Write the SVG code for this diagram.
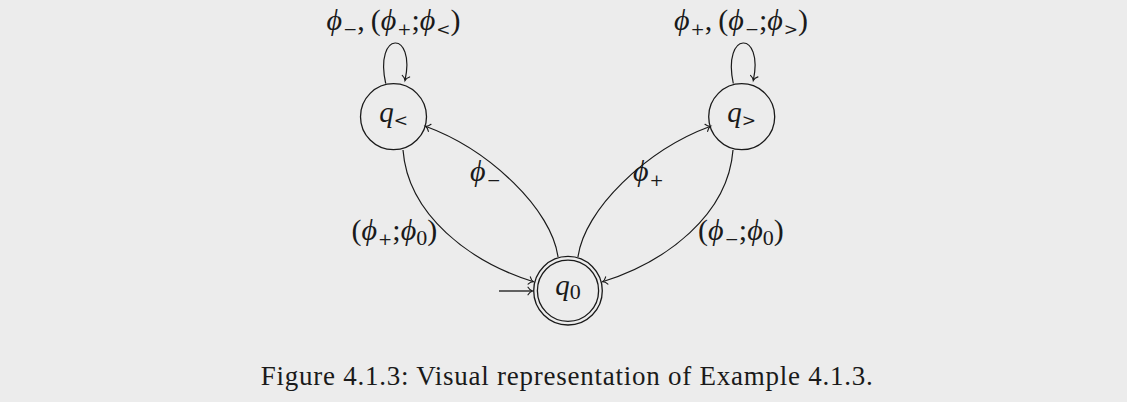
<svg xmlns="http://www.w3.org/2000/svg" width="1127" height="402" viewBox="0 0 1127 402">
<style>
.st{fill:none;stroke:#1a1a1a;stroke-width:1.3}
.ed{fill:none;stroke:#1a1a1a;stroke-width:1.2}
.m{font-family:"Liberation Serif","DejaVu Serif",serif;font-size:30px;fill:#1a1a1a}
.q{font-size:29px}
.i{font-style:italic}
.s{font-size:22px;font-style:normal}
.o{font-family:"DejaVu Serif",serif;font-size:17px;font-style:normal}
.cap{font-family:"Liberation Serif","DejaVu Serif",serif;font-size:27px;fill:#1a1a1a}
</style>
<defs>
<marker id="to" viewBox="-6 -6 12 12" markerWidth="12" markerHeight="12" refX="0" refY="0" orient="auto" markerUnits="userSpaceOnUse" overflow="visible">
<path d="M -4.5 -3.8 C -3.2 -1.6 -1.2 -0.35 0 0 C -1.2 0.35 -3.2 1.6 -4.5 3.8" fill="none" stroke="#1a1a1a" stroke-width="1.1" stroke-linecap="round"/>
</marker>
</defs>
<rect x="0" y="0" width="1127" height="402" fill="#ececec"/>

<g id="connectors">
<path class="ed" d="M 385.7 83.5 C 374 30, 416 30, 405 80.5" marker-end="url(#to)"/>
<path class="ed" d="M 733.3 83.5 C 722 30, 764 30, 753.3 80.5" marker-end="url(#to)"/>
<path class="ed" d="M 403 150 C 408 215, 470 262, 533.5 281.8" marker-end="url(#to)"/>
<path class="ed" d="M 558 257 C 552 210, 490 150, 425.5 126.3" marker-end="url(#to)"/>
<path class="ed" d="M 578 257 C 584 210, 646 150, 710.5 126.3" marker-end="url(#to)"/>
<path class="ed" d="M 733 150 C 728 215, 666 262, 602.5 281.8" marker-end="url(#to)"/>
<path d="M 499 291 L 532.5 291" fill="none" stroke="#333" stroke-width="1.6" marker-end="url(#to)"/>
</g>

<g id="label-loop-left">
<text class="m" x="393.5" y="30" text-anchor="middle"><tspan class="i">ϕ</tspan><tspan class="o" dx="1" dy="5">−</tspan><tspan dy="-5">,</tspan><tspan dx="6">(</tspan><tspan class="i">ϕ</tspan><tspan class="o" dx="1" dy="5">+</tspan><tspan dy="-5">;</tspan><tspan class="i">ϕ</tspan><tspan class="o" dx="1" dy="5">&lt;</tspan><tspan dy="-5">)</tspan></text>
</g>
<g id="label-loop-right">
<text class="m" x="741" y="30" text-anchor="middle"><tspan class="i">ϕ</tspan><tspan class="o" dx="1" dy="5">+</tspan><tspan dy="-5">,</tspan><tspan dx="6">(</tspan><tspan class="i">ϕ</tspan><tspan class="o" dx="1" dy="5">−</tspan><tspan dy="-5">;</tspan><tspan class="i">ϕ</tspan><tspan class="o" dx="1" dy="5">&gt;</tspan><tspan dy="-5">)</tspan></text>
</g>
<g id="label-minus">
<text class="m" x="470" y="181"><tspan class="i">ϕ</tspan><tspan class="o" dx="1" dy="5">−</tspan></text>
</g>
<g id="label-plus">
<text class="m" x="633" y="181"><tspan class="i">ϕ</tspan><tspan class="o" dx="1" dy="5">+</tspan></text>
</g>
<g id="label-left-return">
<text class="m" x="351.5" y="240"><tspan>(</tspan><tspan class="i">ϕ</tspan><tspan class="o" dx="1" dy="5">+</tspan><tspan dy="-5">;</tspan><tspan class="i">ϕ</tspan><tspan class="s" dy="5">0</tspan><tspan dy="-5">)</tspan></text>
</g>
<g id="label-right-return">
<text class="m" x="698" y="240"><tspan>(</tspan><tspan class="i">ϕ</tspan><tspan class="o" dx="1" dy="5">−</tspan><tspan dy="-5">;</tspan><tspan class="i">ϕ</tspan><tspan class="s" dy="5">0</tspan><tspan dy="-5">)</tspan></text>
</g>

<g id="q-less">
<circle class="st" cx="393.5" cy="116.7" r="33"/>
<text class="m q" x="393.5" y="122" text-anchor="middle"><tspan class="i">q</tspan><tspan class="o" dy="4">&lt;</tspan></text>
</g>
<g id="q-greater">
<circle class="st" cx="741.7" cy="116.7" r="33"/>
<text class="m q" x="741.7" y="122" text-anchor="middle"><tspan class="i">q</tspan><tspan class="o" dy="4">&gt;</tspan></text>
</g>
<g id="q-zero">
<circle class="st" cx="568" cy="290.7" r="34.3"/>
<circle class="st" cx="568" cy="290.7" r="30.6"/>
<text class="m q" x="568" y="295" text-anchor="middle"><tspan class="i">q</tspan><tspan class="s" dy="4">0</tspan></text>
</g>

<g id="caption">
<text class="cap" x="260.7" y="385" textLength="612" lengthAdjust="spacing">Figure 4.1.3: Visual representation of Example 4.1.3.</text>
</g>
</svg>
